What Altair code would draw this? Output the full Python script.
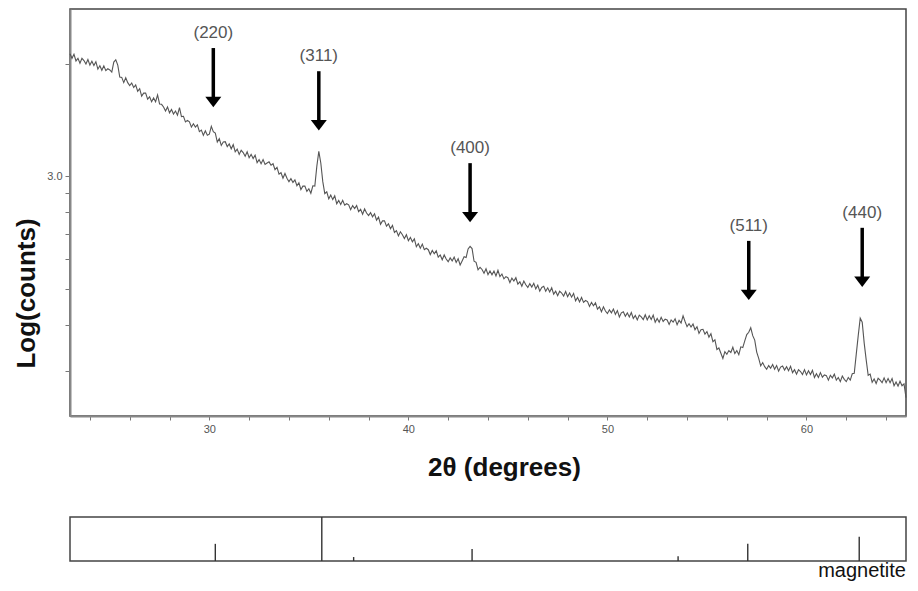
import altair as alt
import pandas as pd
import numpy as np

FONT = "Liberation Sans"

start_2theta = 23.0
step_2theta = 0.1
log_counts = [
    # 23
    3.327, 3.315, 3.326, 3.308, 3.315, 3.302, 3.315, 3.309, 3.300, 3.312,
    # 24
    3.297, 3.307, 3.296, 3.306, 3.286, 3.295, 3.283, 3.295, 3.282, 3.287,
    # 25
    3.284, 3.278, 3.305, 3.311, 3.297, 3.265, 3.264, 3.250, 3.263, 3.250,
    # 26
    3.242, 3.249, 3.237, 3.244, 3.227, 3.234, 3.214, 3.222, 3.222, 3.206,
    # 27
    3.212, 3.199, 3.209, 3.199, 3.217, 3.193, 3.192, 3.185, 3.174, 3.185,
    # 28
    3.169, 3.178, 3.166, 3.174, 3.163, 3.183, 3.159, 3.160, 3.145, 3.149,
    # 29
    3.145, 3.131, 3.140, 3.131, 3.137, 3.119, 3.123, 3.109, 3.121, 3.109,
    # 30
    3.112, 3.133, 3.119, 3.115, 3.091, 3.100, 3.082, 3.091, 3.092, 3.079,
    # 31
    3.086, 3.073, 3.084, 3.065, 3.072, 3.058, 3.069, 3.063, 3.053, 3.065,
    # 32
    3.049, 3.058, 3.047, 3.056, 3.036, 3.044, 3.033, 3.044, 3.031, 3.035,
    # 33
    3.038, 3.029, 3.033, 3.017, 3.023, 3.005, 3.009, 2.994, 3.007, 2.994,
    # 34
    2.985, 2.993, 2.983, 2.990, 2.974, 2.982, 2.964, 2.973, 2.973, 2.959,
    # 35
    2.966, 2.954, 2.974, 2.973, 3.026, 3.066, 3.035, 2.985, 2.953, 2.958,
    # 36
    2.939, 2.949, 2.937, 2.947, 2.926, 2.935, 2.924, 2.935, 2.922, 2.926,
    # 37
    2.923, 2.910, 2.921, 2.913, 2.921, 2.905, 2.911, 2.898, 2.912, 2.901,
    # 38
    2.894, 2.902, 2.891, 2.899, 2.882, 2.890, 2.871, 2.880, 2.880, 2.866,
    # 39
    2.872, 2.859, 2.868, 2.849, 2.854, 2.840, 2.851, 2.843, 2.833, 2.843,
    # 40
    2.827, 2.836, 2.824, 2.832, 2.811, 2.819, 2.807, 2.818, 2.803, 2.807,
    # 41
    2.803, 2.790, 2.801, 2.792, 2.800, 2.783, 2.789, 2.776, 2.789, 2.778,
    # 42
    2.771, 2.781, 2.773, 2.783, 2.769, 2.779, 2.762, 2.773, 2.784, 2.782,
    # 43
    2.805, 2.812, 2.806, 2.772, 2.769, 2.749, 2.756, 2.750, 2.740, 2.752,
    # 44
    2.736, 2.746, 2.736, 2.746, 2.733, 2.748, 2.731, 2.738, 2.725, 2.731,
    # 45
    2.728, 2.715, 2.727, 2.719, 2.728, 2.711, 2.717, 2.705, 2.719, 2.709,
    # 46
    2.702, 2.712, 2.703, 2.713, 2.698, 2.708, 2.692, 2.702, 2.705, 2.692,
    # 47
    2.701, 2.690, 2.701, 2.684, 2.692, 2.680, 2.692, 2.687, 2.679, 2.691,
    # 48
    2.677, 2.687, 2.676, 2.686, 2.666, 2.675, 2.663, 2.675, 2.662, 2.667,
    # 49
    2.664, 2.651, 2.662, 2.653, 2.661, 2.644, 2.650, 2.637, 2.650, 2.639,
    # 50
    2.632, 2.642, 2.634, 2.644, 2.630, 2.640, 2.623, 2.634, 2.637, 2.625,
    # 51
    2.634, 2.623, 2.635, 2.619, 2.627, 2.615, 2.628, 2.623, 2.616, 2.629,
    # 52
    2.615, 2.626, 2.616, 2.628, 2.609, 2.619, 2.609, 2.622, 2.611, 2.617,
    # 53
    2.615, 2.603, 2.615, 2.609, 2.618, 2.602, 2.614, 2.607, 2.626, 2.611,
    # 54
    2.597, 2.605, 2.596, 2.604, 2.589, 2.597, 2.579, 2.589, 2.590, 2.577,
    # 55
    2.584, 2.569, 2.578, 2.557, 2.562, 2.536, 2.540, 2.526, 2.512, 2.530,
    # 56
    2.523, 2.533, 2.528, 2.542, 2.525, 2.533, 2.522, 2.543, 2.541, 2.559,
    # 57
    2.576, 2.582, 2.594, 2.573, 2.561, 2.529, 2.512, 2.492, 2.501, 2.490,
    # 58
    2.483, 2.493, 2.486, 2.496, 2.483, 2.493, 2.478, 2.489, 2.492, 2.481,
    # 59
    2.490, 2.479, 2.491, 2.474, 2.482, 2.470, 2.482, 2.477, 2.469, 2.482,
    # 60
    2.468, 2.479, 2.469, 2.480, 2.461, 2.471, 2.461, 2.474, 2.462, 2.468,
    # 61
    2.466, 2.454, 2.467, 2.460, 2.470, 2.454, 2.461, 2.450, 2.465, 2.456,
    # 62
    2.450, 2.461, 2.454, 2.471, 2.472, 2.523, 2.573, 2.620, 2.609, 2.553,
    # 63
    2.508, 2.467, 2.470, 2.448, 2.457, 2.445, 2.459, 2.454, 2.447, 2.460,
    # 64
    2.447, 2.458, 2.447, 2.458, 2.439, 2.449, 2.438, 2.451, 2.439, 2.444,
    # 65
    2.407,
]
two_theta = [round(start_2theta + step_2theta * i, 1) for i in range(len(log_counts))]

# --- peak annotations
peak_labels = ["(220)", "(311)", "(400)", "(511)", "(440)"]
peak_2theta = [30.2, 35.5, 43.1, 57.1, 62.8]
arrow_tip_log = [3.182, 3.120, 2.874, 2.666, 2.701]

# --- magnetite reference pattern (stick lines)
ref_2theta = [30.3, 35.65, 37.25, 43.2, 53.55, 57.05, 62.65]
ref_intensity = [39, 100, 9, 27, 11, 39, 55]

# --- axes ticks
x_domain = [23, 65]
y_domain = [2.358, 3.447]
x_tick_values = list(range(24, 65, 2))
y_tick_counts = [300, 400, 500, 600, 700, 800, 900, 1000, 2000]
y_tick_values = [float(np.log10(c)) for c in y_tick_counts]

df = pd.DataFrame({"two_theta": two_theta, "log_counts": log_counts})
arrows = pd.DataFrame({"label": peak_labels, "x": peak_2theta, "tip": arrow_tip_log})
refs = pd.DataFrame({"x": ref_2theta, "rel": ref_intensity})

PLOT_W = 836

x_scale = alt.Scale(domain=x_domain, nice=False, zero=False)
y_scale = alt.Scale(domain=y_domain, nice=False, zero=False)

x_axis = alt.Axis(
    values=x_tick_values,
    labelExpr="datum.value % 10 === 0 ? datum.label : ''",
    labelFlush=False,
    title="2θ (degrees)",
    titleFont=FONT, titleFontSize=26, titleFontWeight="bold", titleColor="#111",
    titleX=434, titleY=51, titleBaseline="middle", titleAlign="center",
    labelFont=FONT, labelFontSize=11, labelColor="#555", labelPadding=3,
    tickColor="#777", tickSize=4, tickWidth=1,
    domainColor="#888", domainWidth=2, grid=False,
)
y_axis = alt.Axis(
    values=y_tick_values,
    labelExpr="abs(datum.value - 3) < 0.001 ? '3.0' : ''",
    title="Log(counts)",
    titleFont=FONT, titleFontSize=26, titleFontWeight="bold", titleColor="#111",
    titleX=-44, titleY=284, titleAngle=270, titleBaseline="middle", titleAlign="center",
    labelFont=FONT, labelFontSize=11, labelColor="#555", labelPadding=3,
    tickColor="#777", tickSize=5, tickWidth=1,
    domainColor="#888", domainWidth=2, grid=False,
)

line = alt.Chart(df).mark_line(color="#555", strokeWidth=1.1).encode(
    x=alt.X("two_theta:Q", scale=x_scale, axis=x_axis),
    y=alt.Y("log_counts:Q", scale=y_scale, axis=y_axis),
)

base_arrows = alt.Chart(arrows).encode(
    x=alt.X("x:Q", scale=x_scale),
    y=alt.Y("tip:Q", scale=y_scale),
)
shafts = base_arrows.mark_rule(color="#000", strokeWidth=3.5, yOffset=-9, y2Offset=-60).encode(
    y2=alt.Y2("tip:Q")
)
heads = base_arrows.mark_point(
    shape="M-1,-0.65L1,-0.65L0,0.65Z", filled=True, color="#000", opacity=1, size=256, yOffset=-6, strokeWidth=0
)
labels = base_arrows.mark_text(
    font=FONT, fontSize=17, color="#555", baseline="alphabetic", align="center", yOffset=-70
).encode(text="label:N")

main = alt.layer(line, shafts, heads, labels).properties(width=PLOT_W, height=407)

sticks = alt.Chart(refs).mark_rule(color="#333", strokeWidth=1.4).encode(
    x=alt.X("x:Q", scale=x_scale, axis=None),
    y=alt.Y(
        "rel:Q",
        scale=alt.Scale(domain=[0, 100], nice=False),
        axis=alt.Axis(labels=False, ticks=False, domain=False, grid=False, title=None,
                      minExtent=57, maxExtent=57),
    ),
    y2=alt.datum(0),
)
bottom = sticks.properties(
    width=PLOT_W, height=44,
    title=alt.TitleParams("magnetite", orient="bottom", anchor="end", font=FONT,
                          fontSize=20, fontWeight="normal", color="#111", offset=-1),
)

chart = alt.vconcat(main, bottom, spacing=34).configure_view(
    stroke="#444", strokeWidth=1.5
).properties(padding={"left": 4, "top": 0, "right": 0, "bottom": 0})

chart.save("out.html", embed_options={"renderer": "svg", "actions": False})
